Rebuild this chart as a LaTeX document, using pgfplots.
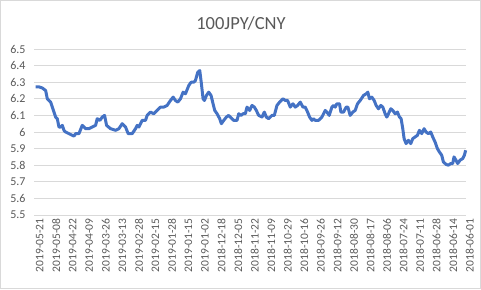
\documentclass[border=0pt]{standalone}
\usepackage{pgfplots}
\pgfplotsset{compat=1.18}
\usepackage{fontspec}
\setmainfont{Carlito}
\definecolor{lineblue}{HTML}{4472C4}
\definecolor{gridgray}{HTML}{D9D9D9}
\definecolor{txtgray}{HTML}{595959}
\begin{document}
\begin{tikzpicture}[x=1bp,y=1bp]
\path[use as bounding box] (0,0) rectangle (481,289);
\draw[gridgray,line width=0.8bp] (0.5,0.5) rectangle (480.5,288.5);
\begin{axis}[
  at={(34bp,74bp)}, anchor=south west,
  scale only axis, width=432bp, height=166bp,
  xmin=100, xmax=1398,
  ymin=5.5, ymax=6.5,
  ytick={5.5,5.6,5.7,5.8,5.9,6.0,6.1,6.2,6.3,6.4,6.5},
  xtick={105,154.692,204.385,254.077,303.769,353.462,403.154,452.846,502.538,552.231,601.923,651.615,701.308,751,800.692,850.385,900.077,949.769,999.462,1049.154,1098.846,1148.538,1198.231,1247.923,1297.615,1347.308,1397},
  xticklabels={2019-05-21,2019-05-08,2019-04-22,2019-04-09,2019-03-26,2019-03-13,2019-02-28,2019-02-15,2019-01-28,2019-01-15,2019-01-02,2018-12-18,2018-12-05,2018-11-22,2018-11-09,2018-10-29,2018-10-16,2018-09-26,2018-09-12,2018-08-30,2018-08-17,2018-08-06,2018-07-24,2018-07-11,2018-06-28,2018-06-14,2018-06-01},
  axis line style={draw=none},
  ymajorgrids, grid style={gridgray, line width=0.8bp},
  major tick length=0,
  /pgf/number format/assume math mode=true,
  ticklabel style={text=txtgray},
  yticklabel style={font=\fontsize{12bp}{14bp}\selectfont, xshift=-5bp},
  xticklabel style={font=\fontsize{11.5bp}{13bp}\selectfont, rotate=90, anchor=east, yshift=-4bp},
  clip=false,
]
\addplot[lineblue, line width=3bp, line join=round] table {
x y
105 6.272
115 6.272
125 6.265
135 6.25
140 6.20
150 6.18
160 6.12
165 6.09
170 6.08
175 6.03
180 6.03
185 6.04
190 6.01
195 6.00
205 5.99
215 5.98
220 5.975
225 5.99
235 5.99
245 6.04
255 6.02
265 6.02
275 6.03
285 6.04
290 6.08
298 6.07
305 6.09
312 6.10
318 6.04
330 6.02
345 6.01
355 6.02
365 6.05
375 6.03
383 5.99
395 5.99
405 6.02
410 6.04
415 6.03
420 6.05
425 6.07
435 6.07
440 6.10
450 6.12
460 6.11
470 6.13
480 6.15
490 6.15
500 6.16
510 6.19
518 6.21
525 6.19
532 6.18
540 6.20
548 6.24
555 6.23
565 6.28
572 6.30
580 6.30
585 6.31
592 6.36
598 6.37
603 6.29
608 6.20
612 6.19
618 6.22
625 6.24
632 6.22
638 6.17
643 6.13
650 6.11
658 6.08
663 6.05
670 6.07
678 6.09
685 6.10
695 6.08
700 6.07
710 6.07
715 6.11
722 6.10
728 6.11
735 6.11
740 6.15
748 6.13
755 6.16
762 6.15
768 6.13
775 6.10
785 6.09
792 6.12
798 6.09
805 6.08
815 6.10
822 6.10
830 6.16
838 6.18
848 6.20
855 6.19
862 6.19
870 6.15
878 6.17
885 6.15
892 6.16
900 6.18
908 6.15
915 6.15
922 6.12
928 6.09
935 6.07
940 6.08
945 6.07
955 6.07
965 6.09
975 6.13
980 6.12
987 6.10
995 6.15
1000 6.16
1005 6.15
1010 6.17
1018 6.17
1022 6.12
1030 6.12
1038 6.15
1043 6.15
1050 6.10
1058 6.12
1065 6.13
1072 6.17
1080 6.19
1090 6.22
1098 6.23
1103 6.24
1108 6.20
1115 6.21
1122 6.19
1128 6.16
1135 6.14
1142 6.16
1148 6.15
1155 6.11
1160 6.09
1165 6.11
1172 6.14
1178 6.13
1185 6.11
1192 6.12
1198 6.09
1203 6.08
1208 6.02
1212 5.96
1218 5.93
1225 5.95
1232 5.93
1238 5.96
1245 5.97
1252 5.98
1258 6.01
1265 5.99
1272 6.02
1278 6.00
1285 5.99
1292 6.00
1298 5.97
1305 5.94
1312 5.90
1318 5.88
1325 5.86
1330 5.82
1338 5.805
1345 5.80
1352 5.81
1358 5.81
1362 5.85
1368 5.83
1373 5.81
1380 5.83
1388 5.84
1393 5.86
1397 5.89
};
\end{axis}
\node[text=txtgray, font=\fontsize{18.5bp}{22bp}\selectfont] at (241,266) {100JPY/CNY};
\end{tikzpicture}
\end{document}
